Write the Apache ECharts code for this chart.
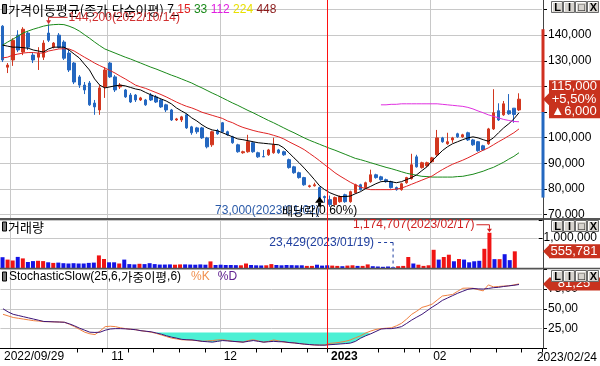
<!DOCTYPE html>
<html>
<head>
<meta charset="utf-8">
<script src="https://cdn.jsdelivr.net/npm/echarts@6/dist/echarts.min.js"></script>
<style>
html,body{margin:0;padding:0;background:#fff;}
#chart{width:600px;height:366px;}
</style>
</head>
<body>
<div id="chart"></div>
<script>
const dates = [
'2022/09/29','2022/09/30',
'2022/10/04','2022/10/05','2022/10/06','2022/10/07','2022/10/11','2022/10/12','2022/10/13','2022/10/14','2022/10/17','2022/10/18','2022/10/19','2022/10/20','2022/10/21','2022/10/24','2022/10/25','2022/10/26','2022/10/27','2022/10/28','2022/10/31',
'2022/11/01','2022/11/02','2022/11/03','2022/11/04','2022/11/07','2022/11/08','2022/11/09','2022/11/10','2022/11/11','2022/11/14','2022/11/15','2022/11/16','2022/11/17','2022/11/18','2022/11/21','2022/11/22','2022/11/23','2022/11/24','2022/11/25','2022/11/28','2022/11/29','2022/11/30',
'2022/12/01','2022/12/02','2022/12/05','2022/12/06','2022/12/07','2022/12/08','2022/12/09','2022/12/12','2022/12/13','2022/12/14','2022/12/15','2022/12/16','2022/12/19','2022/12/20','2022/12/21','2022/12/22','2022/12/23','2022/12/26','2022/12/27','2022/12/28','2022/12/29',
'2023/01/02','2023/01/03','2023/01/04','2023/01/05','2023/01/06','2023/01/09','2023/01/10','2023/01/11','2023/01/12','2023/01/13','2023/01/16','2023/01/17','2023/01/18','2023/01/19','2023/01/20','2023/01/25','2023/01/26','2023/01/27','2023/01/30','2023/01/31',
'2023/02/01','2023/02/02','2023/02/03','2023/02/06','2023/02/07','2023/02/08','2023/02/09','2023/02/10','2023/02/13','2023/02/14','2023/02/15','2023/02/16','2023/02/17','2023/02/20','2023/02/21','2023/02/22','2023/02/23','2023/02/24'
];
const openP = [
143500,127500,130300,140000,133400,140800,132200,131400,131400,140800,
135300,140000,137300,133000,129100,123700,120500,121300,113500,110800,
119800,129100,123700,119800,118600,116600,116600,114700,114700,116600,
115900,114700,112800,110800,106900,106900,108900,104200,103800,103800,
99900,97200,102700,105800,102300,100300,97200,94100,94500,98000,
94100,92600,93300,94100,95200,94500,91400,88600,86300,84400,
80900,81200,80500,77000,75800,73900,75000,77700,75000,78500,
81600,80500,82800,85500,84700,83600,82800,80500,79700,82400,
84000,92500,88300,89000,90600,93300,99900,97600,99100,101500,
100300,101900,99100,98400,96800,97600,103400,110500,108900,110500,
111500,110800];
const closeP = [
130300,128300,138000,134200,142300,135300,130300,133000,136900,138000,
136900,135300,131000,126400,121700,120500,118600,112800,112000,119400,
126400,123700,118600,120500,115900,113900,114700,115500,112800,114700,
113900,112000,110800,106900,107300,108100,103800,101900,102300,99900,
96400,102300,101500,102300,101100,98000,94500,94500,98400,94500,
92500,92500,95200,97200,94100,93300,88300,86300,84400,81600,
81200,81600,75800,76600,73900,76600,77000,75000,78900,81600,
79700,82400,85500,84400,83600,82800,80500,79700,82000,84400,
89400,88600,90200,90200,92100,99900,98400,98400,99900,100300,
101100,99100,97200,94900,95200,103400,109700,106900,113200,109300,
109000,115000];
const lowP = [
129500,125200,128000,133400,132200,134200,129100,126400,130300,137300,
134800,134800,130300,125600,120900,119400,117000,112400,108900,108900,
115500,123300,117800,119000,115500,113500,113900,114300,112400,114300,
113500,111600,110000,106500,106500,106100,103400,101100,101500,99500,
95800,96400,101100,101900,100700,97600,94100,93700,94100,94100,
92100,92500,92900,93700,93700,92900,87900,85900,84000,81200,
80500,80900,75400,74600,73000,73400,74600,74600,74600,78100,
79300,80100,82400,84000,83200,82400,80100,79300,79300,82000,
83600,88300,87900,88600,90200,92900,98000,97200,98000,99900,
99900,98700,96800,94500,94900,97200,103000,106500,108500,108900,
105800,110400];
const highP = [
143900,129100,138800,141900,143100,141500,133400,135300,138000,144200,
137300,140800,138000,134200,129500,124400,121700,122100,114700,120500,
127500,129500,124400,121300,119000,117400,117000,115900,115100,117400,
116600,115100,113200,111200,107700,108500,109300,104600,104200,104200,
100300,102700,103400,106100,102700,100700,97600,94900,101100,98400,
94500,95200,95600,100000,95600,94900,91800,89000,86700,84700,
81600,82400,80900,77400,77400,77000,77400,78100,79300,82000,
82000,82800,87500,85900,85100,84000,83200,80900,82400,84700,
93700,93300,90600,90600,92500,103000,100300,101900,100300,101900,
101500,102300,99500,98700,97200,103800,118900,113400,114300,117000,
111500,117300];
const volume = [
360000,280000,250000,370000,320000,200000,230000,240000,230000,190000,
170000,180000,160000,150000,160000,150000,150000,170000,180000,420000,
300000,190000,190000,150000,280000,130000,120000,140000,130000,160000,
130000,115000,115000,120000,110000,120000,120000,115000,110000,120000,
110000,220000,100000,110000,100000,100000,95000,90000,150000,100000,
90000,85000,90000,130000,100000,90000,100000,95000,90000,90000,
70000,70000,110000,80000,90000,80000,70000,60000,80000,90000,
70000,70000,120000,60000,50000,40000,50000,23429,60000,70000,
367000,150000,110000,70000,90000,607000,280000,367000,443000,224000,
300000,280000,190000,224000,240000,640000,1174707,295000,295000,460000,
262000,555781];
const ma7 = [
136100,135700,135300,135300,135100,134900,134200,133800,133400,134600,
135300,135300,135300,134200,132600,131100,128700,126400,122900,120500,
119400,119800,120200,120500,120200,119600,119000,118600,117600,116700,
115900,115100,114300,113200,111600,110400,109300,107700,106500,105000,
103800,103000,102700,101900,101100,100300,99500,99200,98800,98400,
98000,97800,97600,97400,97200,96000,94100,92100,90200,88100,
85900,83600,81200,79700,78500,77700,77000,77000,77200,78100,
78900,80100,81000,82000,82800,83000,82800,82400,82800,83600,
84400,85500,87100,88600,91000,92900,94900,96400,97600,98400,
99200,99900,100300,99900,99200,98600,99900,101900,103800,105400,
107300,109700];
const ma15 = [
131100,131400,132200,132600,133000,133200,133200,133000,133000,133800,
134200,134600,134700,134600,133800,132600,131400,130300,129100,128100,
127200,126200,125200,124000,122900,121700,120500,119800,119200,118400,
117600,116800,115900,114900,113900,113000,112200,111600,110800,109900,
109300,108700,108100,107500,106500,105800,104800,104000,103400,102800,
102300,101900,101500,100900,100300,99500,98400,97400,96400,95300,
93900,92500,91000,89400,87900,86300,85000,83800,82600,81600,
80700,80100,79700,79700,79700,79700,79700,79900,80300,81000,
81800,82600,83400,84200,85000,86300,87500,88600,89600,90400,
91200,92100,93100,94100,95100,96000,97200,98400,99500,100700,
101900,103400];
const ma33 = [
136100,137300,138400,139600,140800,141600,142300,142900,143500,143900,
144100,144200,144100,143500,142700,141600,140200,138800,137300,135900,
134600,133800,133000,132200,131400,130700,129900,129100,128300,127500,
126800,126000,125200,124400,123700,122900,122100,121300,120300,119400,
118400,117400,116500,115500,114500,113500,112600,111600,110600,109700,
108700,107700,106700,105800,104800,103800,102800,101900,100900,99900,
99000,98200,97400,96600,95800,95100,94300,93500,92700,91900,
91400,90800,90200,89600,89000,88400,87900,87300,86700,86100,
85700,85300,84900,84800,84600,84600,84600,84600,84600,84800,
84900,85300,85700,86300,86900,87700,88400,89400,90400,91600,
92700,94100];
const ma112Start = 74;
const ma112 = [
112800,112800,113000,113000,113200,113200,113200,113200,113200,113200,
113200,113200,113000,112800,112600,112400,112200,111800,111200,110400,
109700,108900,108300,107700,107100,106700,106300,106200];
const stochK = [
43,41,39,38,37,36,35,34.5,33.8,33.7,
33.5,33.3,33,30.5,27.5,24,20.5,18.5,17.5,22,
27.5,28,27.5,26,25,24.2,23.6,22.4,21.5,20.5,
19,17,15,13,12,11,10.8,10.5,9.8,9,
9.5,10,10.8,11,10,9,8.5,8,10,11,
9.5,8,9,10.8,9.5,8,7.5,7,6.2,5.5,
4.8,4.4,4.2,4.5,6.5,7,7.9,9,10.8,13.5,
16,19.5,22,24,25,25.5,26,28.5,31.7,37,
43,47,51.7,53.5,55.8,61,66,67,68,72,
75.8,76,75.8,74,72.5,80,77.5,78,78.5,78.8,
80,81.25];
const stochD = [
50,46,43,41.5,40,38.5,37,35.5,34,33.8,
33.5,33.3,33,31,28.5,25.5,23,20.5,20.2,20.5,
23,24.5,25,25,24.7,24.2,23.6,22.4,21.7,21,
19.5,18,16,14.3,13,11.5,11,10.8,10,9,
8.5,8,9,10,9.5,9,8.5,8,9,10,
9,8,8.5,9,8.5,8.5,7.5,7,6.2,5.5,
5,4.5,4.3,4.2,4.8,5.2,5.7,6.2,6.8,9,
13,16,18.5,21.5,24.5,25,25,26,27.5,31.5,
35.8,39.5,43,47.5,52,56,60.5,63.5,66.5,69.5,
72,74.5,75.5,75,74.8,75.5,76.5,77,78,78.8,
79.5,80.5];
const maPeriods = [7, 15, 33, 112, 224, 448];
const exDivDate = '2022/12/28';
const exDivRate = '0.60%';
const stochLevel = 20;
const axisBand = [142300, 110000, 76600];

const NUM = "'Liberation Sans','Noto Sans CJK KR',sans-serif";
const KOR = "'Noto Sans CJK KR','Liberation Sans',sans-serif";
const F12 = '12px ' + NUM;
const UP = '#d2371f', DN = '#2467c0', VUP = '#f01414', VDN = '#1414e6';
const GRID = '#c8c8c8';
const YEAR_LINE = '#ff1010';

const fmt = v => Math.round(v).toLocaleString('en-US');
const N = dates.length, PAD = 4;
const cats = dates.concat(Array.from({length: PAD}, (_, k) => 'pad' + k));
const candles = dates.map((d, i) => [openP[i], closeP[i], lowP[i], highP[i]]);
const volData = volume.map((v, i) => ({value: v, itemStyle: {color: closeP[i] >= openP[i] ? VUP : VDN}}));
const ma112Full = dates.map((d, i) => i >= ma112Start ? ma112[i - ma112Start] : null);
const fillData = stochD.map(v => v < stochLevel ? v : null);

const xLabelMap = {0: dates[0]};
const monthStarts = [];
for (let i = 1; i < N; i++) {
  const m = dates[i].slice(5, 7), pm = dates[i - 1].slice(5, 7);
  if (m !== pm) {
    monthStarts.push(i);
    if (i > 4) xLabelMap[i] = m === '01' ? '{b|' + dates[i].slice(0, 4) + '}' : m;
  }
}
const dayNum = s => Date.parse(s.replace(/\//g, '-') + 'T00:00:00Z') / 864e5;
const dow = s => new Date(dayNum(s) * 864e5).getUTCDay();
const weekStarts = [];
for (let i = 1; i < N; i++) {
  if (dow(dates[i]) < dow(dates[i - 1]) || dayNum(dates[i]) - dayNum(dates[i - 1]) >= 7) weekStarts.push(i);
}
if (dow(dates[N - 1]) === 5) weekStarts.push(N);

const chart = echarts.init(document.getElementById('chart'), null, {renderer: 'canvas', width: 600, height: 366});

const xAx = g => ({
  type: 'category', gridIndex: g, data: cats, boundaryGap: true,
  axisLine: {show: false},
  axisTick: g === 2 ? {show: true, length: 4, interval: i => weekStarts.includes(i), lineStyle: {color: '#000'}} : {show: false},
  axisLabel: g === 2 ? {
    show: true, interval: i => xLabelMap[i] !== undefined, formatter: (v, i) => xLabelMap[i] || '',
    align: 'left', margin: 0, padding: [2, 1, 1, 1], backgroundColor: '#fff',
    fontFamily: NUM, fontSize: 12, color: '#000',
    rich: {b: {fontWeight: 'bold', fontFamily: NUM, fontSize: 12, color: '#000'}}
  } : {show: false},
  splitLine: {show: false}
});
const yBase = {
  type: 'value', position: 'right', offset: 1,
  axisLine: {show: false},
  axisTick: {show: true, length: 4, lineStyle: {color: '#000'}},
  splitLine: {show: true, lineStyle: {color: GRID, width: 1}}
};
const yLab = f => ({margin: 5, fontFamily: NUM, fontSize: 12, color: '#000', formatter: f});

const option = {
  animation: false,
  backgroundColor: '#fff',
  grid: [
    {left: 0, width: 542, top: 9.5, height: 205},
    {left: 0, width: 542, top: 220, height: 48},
    {left: 0, width: 542, top: 269, height: 79.5}
  ],
  xAxis: [xAx(0), xAx(1), xAx(2)],
  yAxis: [
    Object.assign({}, yBase, {gridIndex: 0, min: 70000, max: 150000, interval: 10000,
      axisLabel: yLab(v => v >= 150000 ? '' : fmt(v))}),
    Object.assign({}, yBase, {gridIndex: 1, min: 0, max: 1600000, interval: 1000000,
      axisLabel: yLab(v => v === 1000000 ? fmt(v) : '')}),
    Object.assign({}, yBase, {gridIndex: 2, min: 0, max: 100, interval: 25,
      axisLabel: yLab(v => (v > 0 && v < 100) ? v.toFixed(2).replace('.', ',') : '')})
  ],
  series: [
    {type: 'candlestick', xAxisIndex: 0, yAxisIndex: 0, data: candles, barWidth: 3, z: 3,
      itemStyle: {color: UP, color0: DN, borderColor: UP, borderColor0: DN, borderWidth: 1}},
    {type: 'line', xAxisIndex: 0, yAxisIndex: 0, data: ma33, symbol: 'none', lineStyle: {color: '#1a8a1a', width: 1}, z: 4},
    {type: 'line', xAxisIndex: 0, yAxisIndex: 0, data: ma15, symbol: 'none', lineStyle: {color: '#e02424', width: 1}, z: 4},
    {type: 'line', xAxisIndex: 0, yAxisIndex: 0, data: ma7, symbol: 'none', lineStyle: {color: '#000', width: 1}, z: 4},
    {type: 'line', xAxisIndex: 0, yAxisIndex: 0, data: ma112Full, symbol: 'none', lineStyle: {color: '#e030e0', width: 1}, z: 4},
    {type: 'bar', xAxisIndex: 1, yAxisIndex: 1, data: volData, barWidth: 4, z: 3},
    {type: 'line', xAxisIndex: 2, yAxisIndex: 2, data: fillData, symbol: 'none', lineStyle: {width: 0},
      areaStyle: {color: '#4cf0d4', opacity: 1, origin: stochLevel}, z: 2},
    {type: 'line', xAxisIndex: 2, yAxisIndex: 2, data: stochK, symbol: 'none', lineStyle: {color: '#f08040', width: 1}, z: 4},
    {type: 'line', xAxisIndex: 2, yAxisIndex: 2, data: stochD, symbol: 'none', lineStyle: {color: '#3c1478', width: 1}, z: 5}
  ]
};
chart.setOption(option);

const P = (g, i, v) => chart.convertToPixel({xAxisIndex: g, yAxisIndex: g}, [i, v]);
const slot = P(0, 1, 100000)[0] - P(0, 0, 100000)[0];
const AX = 543.5;
const BOT = P(2, 0, 0)[1];
const G = [];
const line = (x1, y1, x2, y2, stroke, w, z, dash) => G.push({type: 'line', silent: true, z: z, shape: {x1, y1, x2, y2}, style: {stroke, lineWidth: w, lineDash: dash || null}});
const text = (x, y, t, font, fill, align, z) => G.push({type: 'text', silent: true, z: z || 9, x, y, style: {text: t, font, fill, align: align || 'left', verticalAlign: 'middle'}});
const poly = (pts, fill, z) => G.push({type: 'polygon', silent: true, z: z || 9, shape: {points: pts}, style: {fill}});
const rect = (x, y, w, h, fill, z, stroke) => G.push({type: 'rect', silent: true, z: z || 9, shape: {x, y, width: w, height: h}, style: {fill, stroke: stroke || null, lineWidth: 1}});

// month grid lines (grey) and year line (red)
monthStarts.forEach(i => {
  const x = Math.round(P(0, i, 100000)[0] - slot / 2) + 0.5;
  const yr = dates[i].slice(5, 7) === '01';
  if (yr) line(x, 0, x, BOT, YEAR_LINE, 1, 20);
  else line(x, 0, x, BOT, GRID, 1, 1);
});
// frame
line(0, 219, 600, 219, '#555', 2, 8);
line(0, 268.5, 600, 268.5, '#555', 1.5, 8);
line(0, BOT, AX, BOT, '#000', 1, 8);
line(AX, 0, AX, BOT, '#444', 1, 8);
// axis band
const b0 = P(0, 0, axisBand[0])[1], b1 = P(0, 0, axisBand[1])[1], b2 = P(0, 0, axisBand[2])[1];
rect(541.5, b0, 3, b1 - b0, '#d03020', 9);
rect(541.5, b1, 3, b2 - b1, '#2468c0', 9);
rect(544.5, 219.5, 56, 12, '#fff', 7);

// titles
[4.5, 222, 272].forEach(y => rect(2.5, y, 4, 9, '#777', 9, '#000'));
const maColors = ['#000', '#e02020', '#1a8a1a', '#e020e0', '#e8e000', '#8b1a1a'];
const rich0 = {t: {fontFamily: KOR, fontSize: 13, fill: '#000'}};
maColors.forEach((c, k) => { rich0['c' + k] = {fontFamily: NUM, fontSize: 12, fill: c}; });
G.push({type: 'text', silent: true, z: 9, x: 8, y: 10, style: {
  text: '{t|가격이동평균(종가,단순이평)} ' + maPeriods.map((p, k) => '{c' + k + '|' + p + '}').join(' '),
  fontFamily: NUM, fontSize: 12, verticalAlign: 'middle', rich: rich0}});
line(171, 15.5, 179, 15.5, '#000', 1, 9);
text(8, 227, '거래량', '13px ' + KOR, '#000');
G.push({type: 'text', silent: true, z: 9, x: 9, y: 277, style: {
  text: '{t|StochasticSlow(25,6,}{h|가중이평}{t|,6)}{k|%K}{d|%D}', fontFamily: NUM, fontSize: 12, verticalAlign: 'middle',
  rich: {t: {fontFamily: NUM, fontSize: 12, fill: '#000'}, h: {fontFamily: KOR, fontSize: 12.5, fill: '#000'},
         k: {fontFamily: NUM, fontSize: 12, fill: '#f09050', padding: [0, 0, 0, 10]},
         d: {fontFamily: NUM, fontSize: 12, fill: '#602090', padding: [0, 0, 0, 8]}}}});

// high annotation
let iH = 0; highP.forEach((v, i) => { if (v > highP[iH]) iH = i; });
const [hx, hy] = P(0, iH, highP[iH]);
line(hx, hy - 7, hx + 19, hy - 7, '#d03030', 1, 9);
line(hx, hy - 7, hx, hy - 3, '#d03030', 1, 9);
poly([[hx - 2.5, hy - 4], [hx + 2.5, hy - 4], [hx, hy]], '#d03030', 9);
text(hx + 20, hy - 7, fmt(highP[iH]) + '(' + dates[iH] + ')', F12, '#d03030');
// low annotation
let iL = 0; lowP.forEach((v, i) => { if (v < lowP[iL]) iL = i; });
const [lx, ly] = P(0, iL, lowP[iL]);
text(lx - 10, ly + 4, fmt(lowP[iL]) + '(' + dates[iL] + ')', F12, '#2a5aa8', 'right');
// ex-dividend marker
const iE = dates.indexOf(exDivDate);
const [ex, ey] = P(0, iE, lowP[iE]);
poly([[ex - 4.5, ey + 2], [ex, ey - 4], [ex + 4.5, ey + 2]], '#000', 10);
rect(ex - 1.5, ey + 2, 3, 4, '#000', 10);
G.push({type: 'text', silent: true, z: 10, x: ex, y: ey + 10.5, style: {
  text: '{h|배당락}{n|(' + exDivRate + ')}', align: 'center', verticalAlign: 'middle',
  rich: {h: {fontFamily: KOR, fontSize: 12, fill: '#000'}, n: {fontFamily: NUM, fontSize: 12, fill: '#000'}}}});
// volume annotations
let iVmin = 0, iVmax = 0;
volume.forEach((v, i) => { if (v < volume[iVmin]) iVmin = i; if (v > volume[iVmax]) iVmax = i; });
const [vx, vy] = P(1, iVmin, volume[iVmin]);
const vty = P(1, 0, 1000000)[1] + 4.5;
text(vx - 19, vty, fmt(volume[iVmin]) + '(' + dates[iVmin] + ')', F12, '#2040a0', 'right');
line(vx - 15, vty, vx, vty, '#2040a0', 1, 9, [3, 3]);
line(vx, vty, vx, vy, '#2040a0', 1, 9, [3, 3]);
const [mx, my] = P(1, iVmax, volume[iVmax]);
line(mx - 13, my - 8, mx, my - 8, '#d02020', 1, 9);
line(mx, my - 8, mx, my - 4, '#d02020', 1, 9);
poly([[mx - 2.5, my - 4], [mx + 2.5, my - 4], [mx, my - 0.5]], '#d02020', 9);
text(mx - 15, my - 8, fmt(volume[iVmax]) + '(' + dates[iVmax] + ')', F12, '#d02020', 'right');

// right side value markers
const marker = (yc, h, lines) => {
  const n = Math.min(6, h / 2);
  poly([[AX - 0.5, yc], [549, yc - n], [549, yc - h / 2], [600, yc - h / 2], [600, yc + h / 2], [549, yc + h / 2], [549, yc + n]], '#c8321e', 10);
  lines.forEach((t, k) => text(574, yc + (k - (lines.length - 1) / 2) * 12.3, t, '13px ' + NUM, '#fff', 'center', 11));
};
const last = closeP[N - 1], prev = closeP[N - 2], diff = last - prev;
marker(P(0, N - 1, last)[1], 38, [fmt(last), (diff >= 0 ? '+' : '') + (diff / prev * 100).toFixed(2).replace('.', ',') + '%', (diff >= 0 ? '▲' : '▼') + fmt(Math.abs(diff))]);
marker(P(1, N - 1, volume[N - 1])[1], 14, [fmt(volume[N - 1])]);
marker(P(2, N - 1, stochK[N - 1])[1], 13, [stochK[N - 1].toFixed(2).replace('.', ',')]);

// toolbar buttons
const buttons = y => ['L', 'I', '□', 'X'].forEach((g, k) => {
  const x = 551 + k * 12;
  rect(x + 0.5, y + 0.5, 11, 11, '#d6d3ce', 12, '#6a6a6a');
  line(x + 1.5, y + 1.5, x + 10.5, y + 1.5, '#fff', 1, 12);
  line(x + 1.5, y + 1.5, x + 1.5, y + 10.5, '#fff', 1, 12);
  text(x + 6.5, y + 6.5, g, 'bold 11px ' + NUM, '#000', 'center', 13);
});
buttons(1); buttons(220); buttons(270);

// last date label
text(597, 357.5, dates[N - 1], F12, '#000', 'right');

chart.setOption({graphic: {elements: G}});
</script>
</body>
</html>
